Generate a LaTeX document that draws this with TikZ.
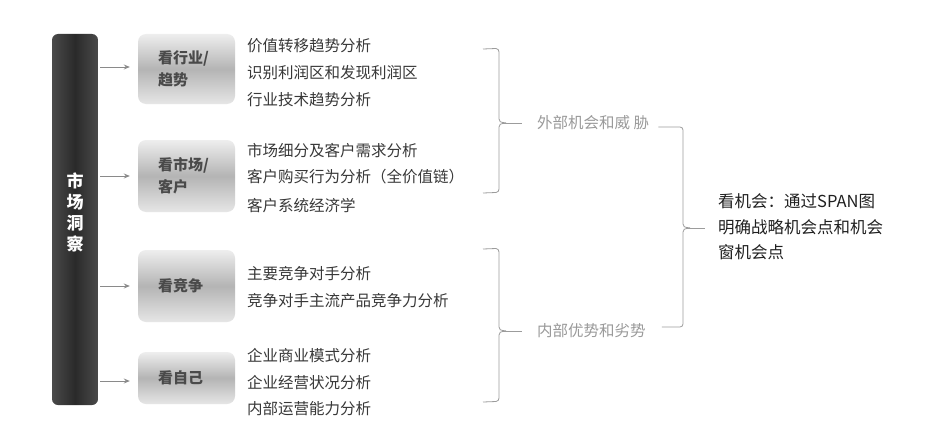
\documentclass[tikz,border=0pt]{standalone}
\usepackage{fontspec}
\setmainfont{Noto Sans CJK SC}
\usetikzlibrary{arrows.meta}
\definecolor{txt}{HTML}{383838}
\definecolor{boxtxt}{HTML}{4A4A4A}
\definecolor{lbl}{HTML}{9A9A9A}
\definecolor{brk}{HTML}{9C9C9C}
\definecolor{arrc}{HTML}{8A8A8A}
\definecolor{barE}{HTML}{4A4A4A}
\definecolor{barM}{HTML}{2A2A2A}
\definecolor{boxT}{HTML}{EEEEEE}
\definecolor{boxM}{HTML}{B4B4B4}
\definecolor{boxB}{HTML}{E6E6E6}
\definecolor{fintxt}{HTML}{202020}
\tikzset{
  barbox/.style={rounded corners=6pt, shading=axis, left color=barE, right color=barE, middle color=barM, minimum width=46pt, minimum height=371pt, inner sep=0pt},
  bartext/.style={text=white, font=\bfseries\fontsize{17}{21}\selectfont, align=center, inner sep=0pt},
  metabox/.style={rounded corners=8pt, shading=axis, top color=boxT, bottom color=boxB, middle color=boxM, minimum width=97pt, text width=57pt, inner xsep=20pt, inner ysep=0pt, align=left, text=boxtxt, font=\bfseries\fontsize{15}{22}\selectfont},
  item/.style={anchor=west, inner sep=0pt, text=txt, font=\fontsize{15.5}{18}\selectfont},
  glabel/.style={anchor=west, inner sep=0pt, text=lbl, font=\fontsize{15.5}{18}\selectfont},
  fin/.style={anchor=west, inner sep=0pt, text=fintxt, align=left, font=\fontsize{16.5}{25.5}\selectfont},
  arr/.style={draw=arrc, line width=1pt, -{Stealth[length=6pt,width=5pt]}, shorten <=2pt, shorten >=8pt},
  brack/.style={draw=brk, line width=0.8pt}
}
\begin{document}
\begin{tikzpicture}[x=1pt,y=-1pt]
\fill[white] (0,0) rectangle (925,420);
\useasboundingbox (0,0) rectangle (925,420);

% left bar
\node[barbox] (bar) at (75,219.5) {};
\node[bartext] (bartxt) at (75,212) {市\\场\\洞\\察};

% boxes
\node[metabox, minimum height=70pt] (b1) at (186.5,69) {看行业/\\趋势};
\node[metabox, minimum height=72pt] (b2) at (186.5,176) {看市场/\\客户};
\node[metabox, minimum height=72pt] (b3) at (186.5,286) {看竞争};
\node[metabox, minimum height=52pt] (b4) at (186.5,378) {看自己};

% arrows
\draw[arr] (bar.east |- 0,67) -- (b1.west |- 0,67);
\draw[arr] (bar.east |- b2.west) -- (b2.west);
\draw[arr] (bar.east |- b3.west) -- (b3.west);
\draw[arr] (bar.east |- 0,381) -- (b4.west |- 0,381);

% items
\node[item] (t11) at (247,46) {价值转移趋势分析};
\node[item] (t12) at (247,73) {识别利润区和发现利润区};
\node[item] (t13) at (247,100) {行业技术趋势分析};
\node[item] (t21) at (247,151) {市场细分及客户需求分析};
\node[item] (t22) at (247,177) {客户购买行为分析（全价值链）};
\node[item] (t23) at (247,206) {客户系统经济学};
\node[item] (t31) at (247,274) {主要竞争对手分析};
\node[item] (t32) at (247,301) {竞争对手主流产品竞争力分析};
\node[item] (t41) at (247,356) {企业商业模式分析};
\node[item] (t42) at (247,383) {企业经营状况分析};
\node[item] (t43) at (247,409) {内部运营能力分析};

% group labels
\node[glabel] (ext) at (537,123) {外部机会和威 胁};
\node[glabel] (int) at (537,331) {内部优势和劣势};

% final text
\node[fin] (res) at (718,227) {看机会：通过SPAN图\\明确战略机会点和机会\\窗机会点};

% left bracket 1
\draw[brack] (483,49) -- (496,48.5) to[out=0,in=90] (499,52) -- (499,119) .. controls (499.5,122) .. (506,123);
\draw[brack] (483,193) -- (496,192.5) to[out=0,in=-90] (499,189) -- (499,127) .. controls (499.5,124) .. (506,123);
\draw[brack] (503,123) -- ([xshift=-15pt]ext.west);

% left bracket 2
\draw[brack] (483,249) -- (496,248.5) to[out=0,in=90] (499,252) -- (499,327) .. controls (499.5,330) .. (506,331);
\draw[brack] (483,402) -- (496,401.5) to[out=0,in=-90] (499,398) -- (499,335) .. controls (499.5,332) .. (506,331);
\draw[brack] (503,331) -- ([xshift=-15pt]int.west);

% big right bracket
\draw[brack] ([xshift=9pt]ext.east |- 0,127) -- (680,127) to[out=0,in=90] (683,130) -- (683,224) .. controls (683.5,227) .. (690,228);
\draw[brack] ([xshift=16pt]int.east |- 0,327) -- (680,327) to[out=0,in=-90] (683,324) -- (683,232) .. controls (683.5,229) .. (690,228);
\draw[brack] (687,228) -- ([xshift=-13pt]res.west |- 0,228);
\end{tikzpicture}
\end{document}
